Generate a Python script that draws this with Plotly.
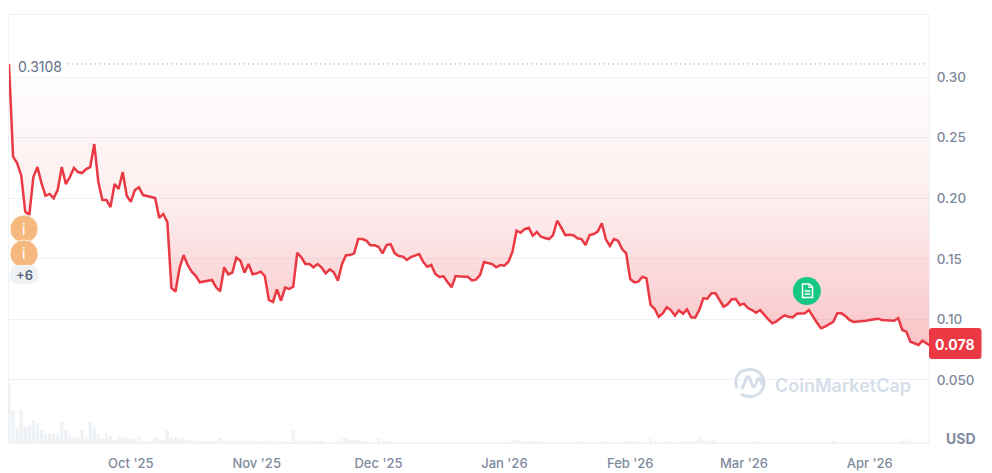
import pandas as pd
import plotly.graph_objects as go

start_date = "2025-09-01"
price = [
 .3108,.2343,.229,.219,.189,.186,.2175,.2257,.2125,.202,
 .2035,.200,.207,.2257,.2117,.2175,.225,.2216,.2208,.224,
 .2257,.2447,.2134,.1985,.1985,.1927,.2117,.2076,.2216,.202,
 .197,.2067,.209,.2026,.2018,.201,.2002,.1837,.187,.1804,
 .1259,.1229,.1424,.1531,.1449,.1394,.136,.1306,.1311,.132,
 .1325,.1265,.1232,.143,.1372,.1386,.1509,.1484,.1386,.1457,
 .1372,.138,.1394,.1358,.116,.1144,.1248,.1154,.1262,.1251,
 .127,.155,.1512,.1457,.1457,.143,.1457,.1427,.138,.1413,
 .1389,.132,.1455,.1529,.1531,.1545,.1663,.1663,.165,.1611,
 .1611,.16,.1545,.1614,.162,.1545,.1523,.1518,.149,.1515,
 .1526,.154,.1476,.1435,.1449,.1375,.135,.1356,.1309,.1265,
 .1358,.1352,.1352,.1352,.1322,.1328,.1366,.1474,.1463,.1457,
 .143,.1449,.1443,.1476,.1559,.1732,.1715,.1746,.1757,.1691,
 .1721,.1682,.1672,.1663,.1696,.1814,.176,.1696,.1699,.1694,
 .1669,.1663,.1614,.1696,.1705,.1724,.1793,.1661,.1606,.1663,
 .165,.1581,.1545,.1333,.1306,.1311,.1352,.1339,.1119,.1088,
 .1022,.105,.11,.1077,.1031,.1075,.1047,.1083,.1017,.1014,
 .1077,.1174,.1171,.1215,.1215,.1154,.1105,.1125,.1166,.1168,
 .1119,.113,.1094,.1077,.1055,.1077,.1036,.1,.0968,.0984,
 .1009,.1034,.1022,.1017,.1047,.105,.105,.1077,.1022,.0973,
 .0927,.094,.096,.0979,.105,.105,.1028,.0995,.0979,.0981,
 .0984,.0989,.0995,.1003,.1006,.0995,.0992,.0992,.0989,.1011,
 .0913,.0899,.0816,.0803,.0789,.0824,.0803,.078,
]
volume = [
 60,33,15,33,16,18,23,20,13,9,
 9,9,10,21,13,7,6,5,13,6,
 21,16,9,5,10,7,3,6,6,5,
 4,4,6,1.5,2,1,6,4,3,13,
 6,6,4,5,3,2.5,2.5,.7,1.3,1.3,
 1.3,1.3,5,3,1.3,2.3,2.3,1.3,3.7,2.7,
 1.7,1.3,.7,2.3,2.3,2.3,.7,1.3,.3,.3,
 13,2,3.7,2.7,2.3,1.3,2,2,1,.5,
 .5,1.7,4.3,5,3,3,3,2,1.3,.3,
 .3,4.7,2,1.3,1.3,.3,.3,.3,.3,.3,
 1,1,.3,.3,.3,.3,.3,.3,1,1,
 .3,.3,.3,.3,.3,.3,.3,.3,.3,.3,
 .3,.3,.3,.3,3.7,3,1.5,.3,1.5,2,
 1.5,.3,.3,.3,1,1,.3,.3,.3,.3,
 .3,2,1,.3,.3,.3,.3,2,.3,.3,
 1,1,1.5,1.5,1.5,1,.3,.3,4.5,2,
 .5,.5,1.5,.5,.5,1,.5,1.5,.5,2,
 6,3,2,3,3,.5,.5,.3,.3,.3,
 .3,.3,.3,.3,1.5,.3,.3,.3,.3,.3,
 .3,.3,.3,1,.3,.3,.3,.3,.3,1,
 .3,.3,.3,1.5,.3,.3,.3,.3,.3,.3,
 .3,.3,.3,.3,.3,.3,.3,.3,.3,.3,
 2,4,2,.3,.3,.3,.3,.3,
]
x_tick_dates = ["2025-10-01","2025-11-01","2025-12-01","2026-01-01","2026-02-01","2026-03-01","2026-04-01"]
x_tick_labels = ["Oct '25","Nov '25","Dec '25","Jan '26","Feb '26","Mar '26","Apr '26"]
y_tick_vals = [0.05,0.10,0.15,0.20,0.25,0.30]
y_tick_labels = ["0.050","0.10","0.15","0.20","0.25","0.30"]
event_dates = ["2025-09-04 17:00","2025-09-04 17:00"]
event_levels = [0.1746,0.154]
doc_dates = ["2026-03-16 12:00"]
doc_levels = [0.1234]

RED = "#ea3943"; GRID = "#eff2f5"; TICK = "#808a9d"; WM = "#d5dde9"
L, R, T, B = 9, 929, 15, 443
W, H = 992, 473
def px(x): return (x-L)/(R-L)
def py(y): return (B-y)/(B-T)

dates = pd.date_range(start_date, periods=len(price), freq="D")
top = max(price); last = price[-1]

fig = go.Figure()
fig.add_bar(x=dates, y=volume, yaxis="y2", marker=dict(color=GRID, line_width=0), hoverinfo="skip")
fig.add_scatter(x=dates, y=[top]*len(price), mode="lines", line=dict(width=0, color="rgba(0,0,0,0)"), hoverinfo="skip")
fig.add_scatter(x=dates, y=price, mode="lines", line=dict(color=RED, width=2.5), fill="tonexty",
    fillgradient=dict(type="vertical", start=top, stop=last, colorscale=[
        [0,"rgba(234,57,67,0)"],[0.5,"rgba(234,57,67,0.09)"],[1,"rgba(234,57,67,0.3)"]]))
fig.add_scatter(x=event_dates, y=event_levels, mode="markers",
    marker=dict(size=28, color="#f5b97f", line=dict(color="#fdf1e4", width=1)), hoverinfo="skip")
fig.add_scatter(x=doc_dates, y=doc_levels, mode="markers",
    marker=dict(size=28, color="#16c784"), hoverinfo="skip")

shapes = []
shapes.append(dict(type="line", xref="paper", yref="y", x0=px(68), x1=px(926), y0=top, y1=top,
                   line=dict(color=TICK, width=1, dash="1px,3.5px")))
def rrect(x0,y0,x1,y1,r,color):
    path = (f"M{px(x0+r):.5f},{py(y0):.5f} L{px(x1-r):.5f},{py(y0):.5f} Q{px(x1):.5f},{py(y0):.5f} {px(x1):.5f},{py(y0+r):.5f} "
            f"L{px(x1):.5f},{py(y1-r):.5f} Q{px(x1):.5f},{py(y1):.5f} {px(x1-r):.5f},{py(y1):.5f} "
            f"L{px(x0+r):.5f},{py(y1):.5f} Q{px(x0):.5f},{py(y1):.5f} {px(x0):.5f},{py(y1-r):.5f} "
            f"L{px(x0):.5f},{py(y0+r):.5f} Q{px(x0):.5f},{py(y0):.5f} {px(x0+r):.5f},{py(y0):.5f} Z")
    return dict(type="path", xref="paper", yref="paper", path=path, fillcolor=color, line_width=0)
shapes.append(rrect(929,328,981.5,359,3,"#ea3943"))
shapes.append(rrect(10,265,38.5,284,9,"#eff2f5"))
def stroke(pts, color="white", width=1.5, closed=False):
    d = "M"+" L".join(f"{px(x):.5f},{py(y):.5f}" for x,y in pts)+(" Z" if closed else "")
    return dict(type="path", xref="paper", yref="paper", path=d, line=dict(color=color, width=width))
shapes.append(stroke([(802.5,284),(809.5,284),(812.5,287),(812.5,297.5),(802.5,297.5)], closed=True))
shapes.append(stroke([(804.7,291),(810.3,291)]))
shapes.append(stroke([(804.7,294),(810.3,294)]))
shapes.append(stroke([(809,284.5),(809,287.5),(812,287.5)], width=1.2))
def cpath(s):
    return dict(type="path", xref="paper", yref="paper", path=s, line=dict(color=WM, width=3))
c = lambda x,y: f"{px(x):.5f},{py(y):.5f}"
shapes.append(cpath(f"M{c(737,388)} C{c(733,378)} {c(739,369.5)} {c(750,369.5)} C{c(759,369.5)} {c(764,376)} {c(764,383)} "
                    f"C{c(764,391)} {c(758,396.5)} {c(750,396.5)} C{c(746,396.5)} {c(743,395.5)} {c(741,394)}"))
shapes.append(cpath(f"M{c(742,389)} L{c(746.5,378)} Q{c(748.5,375)} {c(750,379)} L{c(752,385)} Q{c(754,389)} {c(756,384)} "
                    f"L{c(757.5,380)} Q{c(759.5,376)} {c(761,381)} L{c(762.5,385)}"))

def note(text,x,y,size,color,weight=500,xanchor="center",**kw):
    return dict(text=text,xref="paper",yref="paper",x=px(x),y=py(y),showarrow=False,xanchor=xanchor,yanchor="middle",
                font=dict(family="Inter",size=size,color=color,weight=weight),**kw)
ann = [
    note("0.3108",15,66.5,14,"#616e85",400,xanchor="left",bgcolor="white",borderpad=2),
    note("0.078",955.5,344,14,"white",700),
    note("USD",960.5,438,14,TICK,700),
    note("i",24,229,15,"#ffffff",400),
    note("i",24,254,15,"#ffffff",400),
    note("+6",24,274.5,13,"#58667e",600),
    note("CoinMarketCap",773,385,18,WM,600,xanchor="left"),
]

fig.update_layout(
    width=W, height=H, margin=dict(l=L,r=W-R,t=T,b=H-B,autoexpand=False),
    paper_bgcolor="white", plot_bgcolor="white", showlegend=False, bargap=0.2,
    font=dict(family="Inter"), shapes=shapes, annotations=ann,
    xaxis=dict(type="date", range=[dates[0], dates[-1]-pd.Timedelta(hours=10)], tickvals=x_tick_dates, ticktext=x_tick_labels,
               showgrid=False, showline=True, mirror=True, linecolor=GRID, linewidth=1,
               ticks="outside", ticklen=8, tickcolor="rgba(0,0,0,0)",
               tickfont=dict(family="Inter",size=13,color=TICK,weight=500), zeroline=False),
    yaxis=dict(range=[-0.002,0.3512], side="right", tickvals=y_tick_vals, ticktext=y_tick_labels,
               showgrid=True, gridcolor=GRID, gridwidth=1, showline=True, mirror=True, linecolor=GRID,
               ticks="outside", ticklen=4, tickcolor="rgba(0,0,0,0)", zeroline=False,
               tickfont=dict(family="Inter",size=13.5,color=TICK,weight=500)),
    yaxis2=dict(range=[0,428], overlaying="y", side="left", visible=False, fixedrange=True),
)
fig.write_html("out.html", config=dict(displayModeBar=False),
               post_script="document.body.style.margin='0';document.documentElement.style.overflow='hidden';")
